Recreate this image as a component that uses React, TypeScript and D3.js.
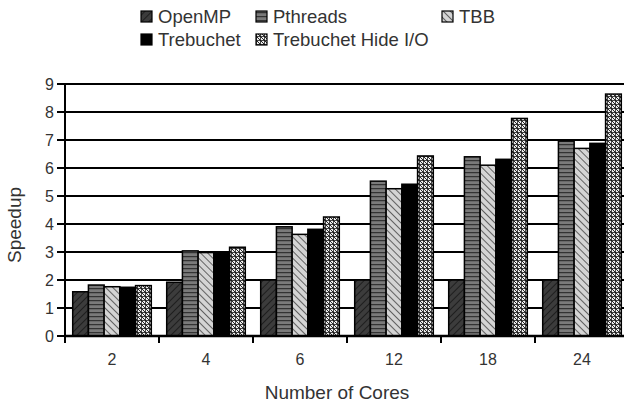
import React from "react";
import * as d3 from "d3";

const categories = ["2", "4", "6", "12", "18", "24"];
const seriesNames = ["OpenMP", "Pthreads", "TBB", "Trebuchet", "Trebuchet Hide I/O"];
const openmp = [1.58, 1.92, 2.0, 2.0, 2.0, 2.0];
const pthreads = [1.82, 3.04, 3.9, 5.53, 6.4, 6.96];
const tbb = [1.76, 2.98, 3.63, 5.26, 6.1, 6.7];
const trebuchet = [1.74, 2.98, 3.81, 5.42, 6.31, 6.88];
const hideIO = [1.8, 3.17, 4.25, 6.43, 7.77, 8.64];
const yTicks = [0, 1, 2, 3, 4, 5, 6, 7, 8, 9];

const seriesValues = [openmp, pthreads, tbb, trebuchet, hideIO];
const fills = ["url(#pOpenMP)", "url(#pPthreads)", "url(#pTBB)", "#000", "url(#pHide)"];

const W = 624, H = 403;
const left = 65, groupW = 94;
const right = left + groupW * categories.length;
const top = 84, bottom = 336;
const font = "'Liberation Sans', Arial, sans-serif";
const textColor = "#333";

export default function App() {
  const x = d3.scaleBand<string>().domain(categories).range([left, right]).padding(0);
  const inner = d3.scaleBand<string>().domain(seriesNames).range([7.7, groupW - 7.7]).padding(0);
  const y = d3.scaleLinear().domain([0, 9]).range([bottom, top]);

  const legend = [
    { name: seriesNames[0], sx: 141, row: 0 },
    { name: seriesNames[1], sx: 256, row: 0 },
    { name: seriesNames[2], sx: 442, row: 0 },
    { name: seriesNames[3], sx: 141, row: 1 },
    { name: seriesNames[4], sx: 256, row: 1 },
  ];

  return (
    <svg width={W} height={H} style={{ position: "absolute", left: 0, top: 0, background: "#fff" }}>
      <defs>
        <pattern id="pOpenMP" width="5" height="5" patternUnits="userSpaceOnUse" patternTransform="rotate(45)">
          <rect width="5" height="5" fill="#3c3c3c" />
          <line x1="0" y1="0" x2="0" y2="5" stroke="#111" strokeWidth="1.4" />
        </pattern>
        <pattern id="pPthreads" width="4" height="4" patternUnits="userSpaceOnUse">
          <rect width="4" height="4" fill="#7a7a7a" />
          <line x1="0" y1="0.6" x2="4" y2="0.6" stroke="#333" strokeWidth="1.3" />
        </pattern>
        <pattern id="pTBB" width="5" height="5" patternUnits="userSpaceOnUse" patternTransform="rotate(-45)">
          <rect width="5" height="5" fill="#d4d4d4" />
          <line x1="0" y1="0" x2="0" y2="5" stroke="#222" strokeWidth="1.3" />
        </pattern>
        <pattern id="pHide" width="4" height="4" patternUnits="userSpaceOnUse">
          <rect width="4" height="4" fill="#eee" />
          <path d="M0 0.5H4M0.5 0V4" stroke="#444" strokeWidth="1" />
          <path d="M0 0L4 4" stroke="#111" strokeWidth="0.9" />
        </pattern>
      </defs>

      {/* gridlines */}
      {yTicks.map((t) => (
        <line key={"g" + t} x1={left} x2={right} y1={y(t)} y2={y(t)} stroke="#000" strokeWidth={2} />
      ))}

      {/* bars */}
      {categories.map((c, ci) => (
        <g key={c} transform={`translate(${x(c)},0)`}>
          {seriesNames.map((s, si) => {
            const v = seriesValues[si][ci];
            return (
              <rect
                key={s}
                x={inner(s)}
                y={y(v)}
                width={inner.bandwidth()}
                height={y(0) - y(v)}
                fill={fills[si]}
                stroke="#000"
                strokeWidth={1.5}
              />
            );
          })}
        </g>
      ))}

      {/* axes */}
      <line x1={left} x2={left} y1={top} y2={bottom + 1} stroke="#000" strokeWidth={2} />
      <line x1={left - 1} x2={right} y1={bottom} y2={bottom} stroke="#000" strokeWidth={2.5} />
      {yTicks.map((t) => (
        <g key={"yt" + t}>
          <line x1={left - 8} x2={left} y1={y(t)} y2={y(t)} stroke="#000" strokeWidth={2} />
          <text x={54} y={y(t)} dy="0.36em" textAnchor="end" fontFamily={font} fontSize={16} fill={textColor}>
            {t}
          </text>
        </g>
      ))}
      {[...categories.map((c) => x(c) as number), right].map((px, i) => (
        <line key={"xt" + i} x1={px} x2={px} y1={bottom} y2={bottom + 7} stroke="#000" strokeWidth={2} />
      ))}
      {categories.map((c) => (
        <text key={"xl" + c} x={(x(c) as number) + groupW / 2} y={365} textAnchor="middle" fontFamily={font} fontSize={16} fill={textColor}>
          {c}
        </text>
      ))}

      <text x={337} y={399} textAnchor="middle" fontFamily={font} fontSize={19} fill={textColor}>
        Number of Cores
      </text>
      <text transform="translate(21,225) rotate(-90)" textAnchor="middle" fontFamily={font} fontSize={19} fill={textColor}>
        Speedup
      </text>

      {/* legend */}
      {legend.map((l, i) => (
        <g key={"lg" + i}>
          <rect x={l.sx} y={11 + l.row * 23} width={11} height={11} fill={fills[i]} stroke="#000" strokeWidth={1.2} />
          <text x={l.sx + 17} y={23 + l.row * 23} fontFamily={font} fontSize={18.5} fill={textColor}>
            {l.name}
          </text>
        </g>
      ))}
    </svg>
  );
}
